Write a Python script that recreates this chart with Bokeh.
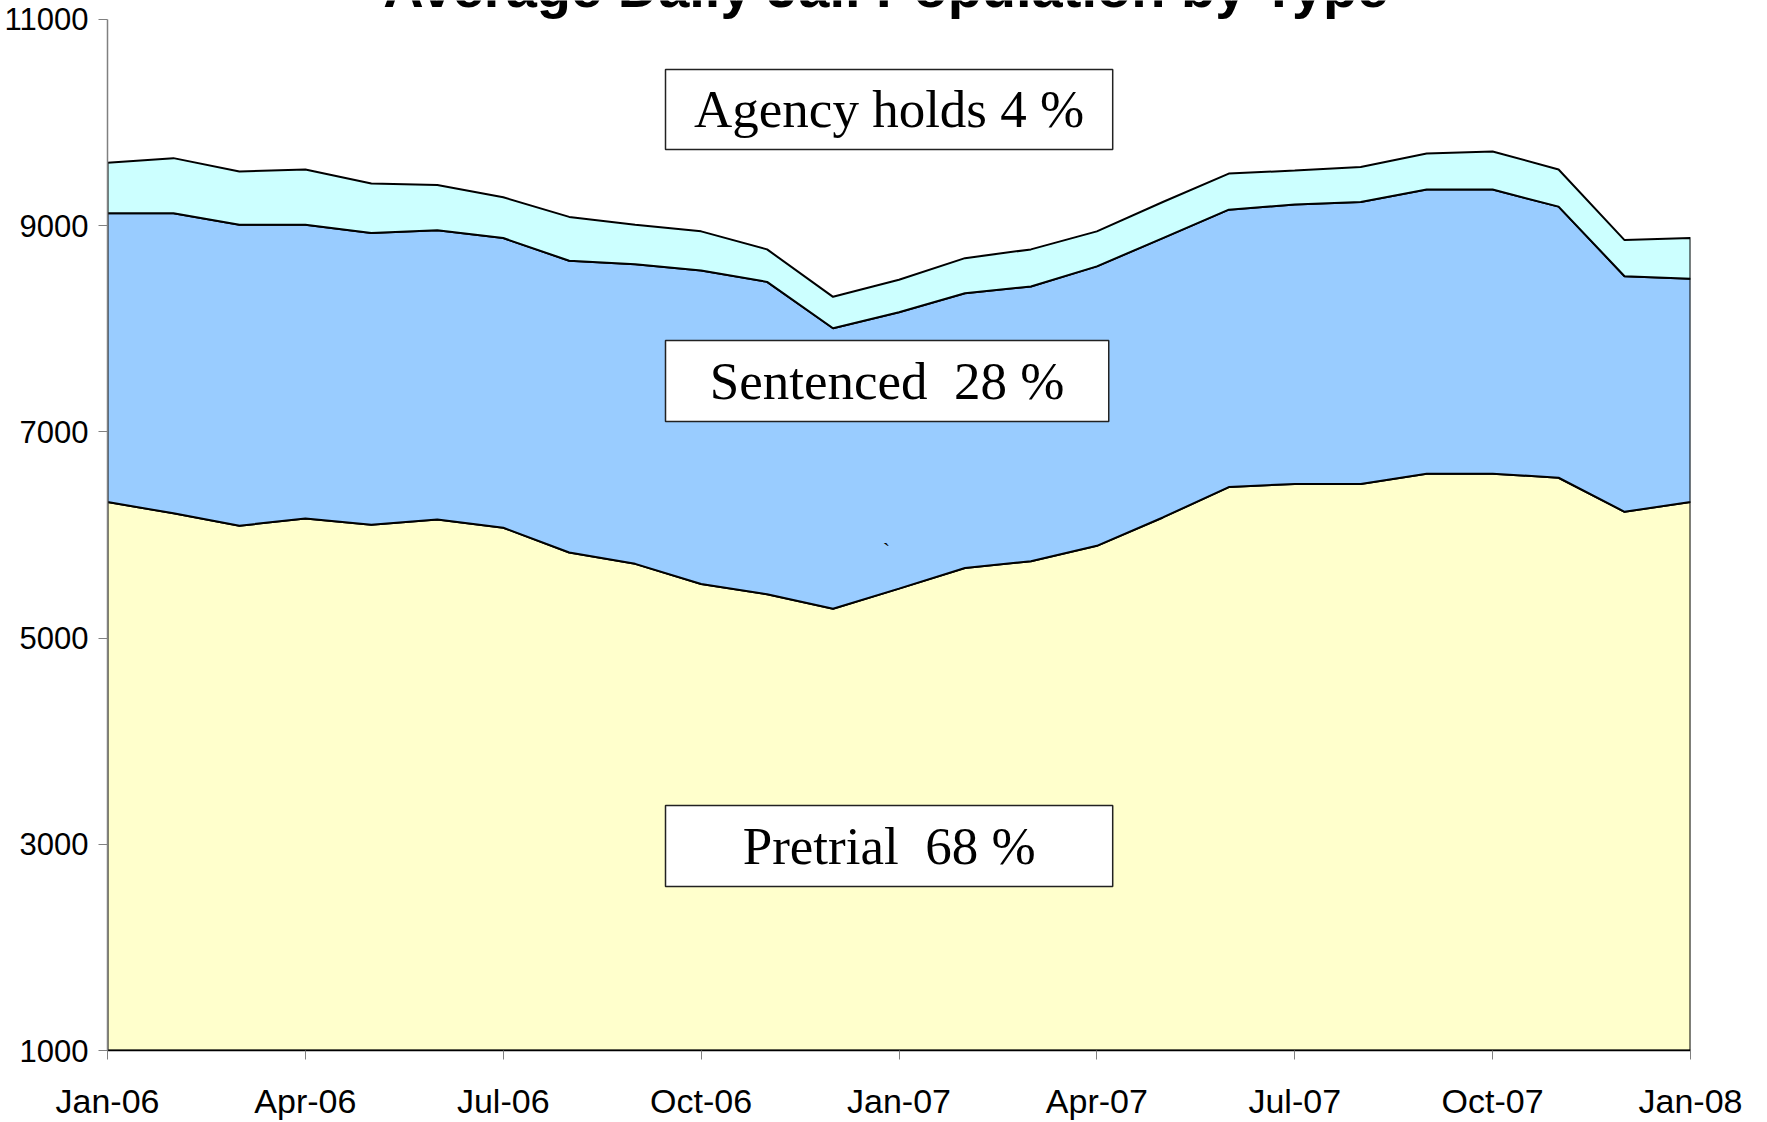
from bokeh.plotting import figure
from bokeh.models import Range1d, FixedTicker, BoxAnnotation, Label
from bokeh.embed import file_html
from bokeh.resources import INLINE
from bokeh.core.properties import value

months = ["Jan-06", "Feb-06", "Mar-06", "Apr-06", "May-06", "Jun-06", "Jul-06", "Aug-06",
          "Sep-06", "Oct-06", "Nov-06", "Dec-06", "Jan-07", "Feb-07", "Mar-07", "Apr-07",
          "May-07", "Jun-07", "Jul-07", "Aug-07", "Sep-07", "Oct-07", "Nov-07", "Dec-07", "Jan-08"]
pretrial = [6320, 6210, 6090, 6160, 6100, 6150, 6070, 5830, 5720, 5525, 5425, 5285, 5480,
            5680, 5745, 5895, 6170, 6465, 6495, 6495, 6595, 6595, 6555, 6225, 6320]
sentenced = [2800, 2910, 2920, 2850, 2830, 2805, 2810, 2830, 2905, 3040, 3030, 2720, 2680,
             2665, 2665, 2710, 2710, 2690, 2710, 2735, 2755, 2755, 2630, 2285, 2165]
agency = [490, 535, 515, 535, 480, 440, 395, 425, 385, 380, 315, 305, 315,
          340, 360, 340, 350, 350, 330, 340, 350, 370, 360, 350, 395]
tick_labels = {0: "Jan-06", 3: "Apr-06", 6: "Jul-06", 9: "Oct-06", 12: "Jan-07",
               15: "Apr-07", 18: "Jul-07", 21: "Oct-07", 24: "Jan-08"}
y_ticks = [1000, 3000, 5000, 7000, 9000, 11000]
y_floor = 1000

W, H = 1759, 1122
p = figure(width=W, height=H, output_backend="svg", toolbar_location=None,
           x_range=Range1d(0, 24), y_range=Range1d(1000, 11184),
           min_border_left=107, min_border_right=69, min_border_top=0, min_border_bottom=72)
p.outline_line_color = None
p.xgrid.visible = False
p.ygrid.visible = False

xs = list(range(len(months)))
top1 = pretrial
top2 = [a + b for a, b in zip(top1, sentenced)]
top3 = [a + b for a, b in zip(top2, agency)]
base = [y_floor] * len(xs)

layers = [(base, top1, "#FFFFCC"), (top1, top2, "#99CCFF"), (top2, top3, "#CCFFFF")]
for lo, hi, col in layers:
    px = xs + xs[::-1]
    py = hi + lo[::-1]
    p.patch(px, py, fill_color=col, line_color="black", line_width=2)

# axes
p.xaxis.ticker = FixedTicker(ticks=list(tick_labels.keys()))
p.xaxis.major_label_overrides = tick_labels
p.xaxis.minor_tick_line_color = None
p.xaxis.major_tick_in = 0
p.xaxis.major_tick_out = 9
p.xaxis.major_tick_line_color = "#808080"
p.xaxis.axis_line_color = "black"
p.xaxis.axis_line_width = 1.5
p.xaxis.major_label_text_font = "Liberation Sans"
p.xaxis.major_label_text_font_size = "34px"
p.xaxis.major_label_text_color = "black"
p.xaxis.major_label_standoff = 22

p.yaxis.ticker = FixedTicker(ticks=y_ticks)
p.yaxis.bounds = (1000, 11000)
p.yaxis.minor_tick_line_color = None
p.yaxis.major_tick_in = 0
p.yaxis.major_tick_out = 9
p.yaxis.major_tick_line_color = "#808080"
p.yaxis.axis_line_color = "#808080"
p.yaxis.axis_line_width = 1.5
p.yaxis.major_label_text_font = "Liberation Sans"
p.yaxis.major_label_text_font_size = "31px"
p.yaxis.major_label_text_color = "black"
p.yaxis.major_label_standoff = 10

# title (cut off at the top as in the reference)
p.add_layout(Label(x=11.8, y=11310, text="Average Daily Jail Population by Type",
                   text_align="center", text_baseline="middle",
                   text_font="Liberation Sans", text_font_style="bold",
                   text_font_size="56px", text_color="black"))

NB = "\u00a0"
boxes = [
    (8.46, 15.24, 9739, 10515, "Agency holds 4 %"),
    (8.46, 15.18, 7101, 7887, "Sentenced" + NB + " 28 %"),
    (8.46, 15.24, 2591, 3376, "Pretrial" + NB + " 68 %"),
]
for l, r, b, t, txt in boxes:
    p.add_layout(BoxAnnotation(left=l, right=r, bottom=b, top=t, fill_color="white",
                               fill_alpha=1.0, line_color="#222222", line_width=1.5,
                               line_alpha=1.0))
    p.add_layout(Label(x=(l + r) / 2, y=(b + t) / 2, text=txt, text_align="center",
                       text_baseline="middle", text_font="Liberation Serif",
                       text_font_size="53px", text_color="black"))

p.text(x=[11.81], y=[5850], text=["`"], text_font=value("Liberation Serif"),
       text_font_size="22px", text_align="center", text_baseline="middle", text_color="black")

open("out.html", "w").write(file_html(p, INLINE))
